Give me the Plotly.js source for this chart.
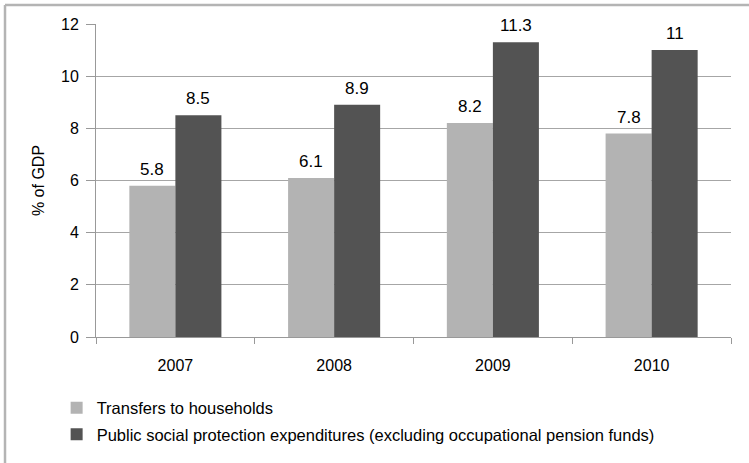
<!DOCTYPE html>
<html>
<head>
<meta charset="utf-8">
<script src="https://cdn.plot.ly/plotly-3.0.1.min.js"></script>
<style>
  html, body { margin: 0; padding: 0; background: #fff; }
  #chart { width: 749px; height: 463px; }
</style>
</head>
<body>
<div id="chart"></div>
<script>
// Gögn lesin af myndinni
let years = ['2007', '2008', '2009', '2010'];
let transfers = [5.8, 6.1, 8.2, 7.8];
let publicSocial = [8.5, 8.9, 11.3, 11];
let seriesNames = ['Transfers to households',
  'Public social protection expenditures (excluding occupational pension funds)'];
let yTicks = [0, 2, 4, 6, 8, 10, 12];

function drawChart() {
  let fam = 'Liberation Sans, Arial, sans-serif';
  let font = { family: fam, size: 16, color: '#000' };
  let labelFont = { family: fam, size: 17, color: '#000' };

  let plotW = 749 - 96 - 18;
  let bargap = 0.42;
  // hálf súlubreidd í pixlum, reiknuð úr flokkabreidd
  let halfBar = plotW / years.length * (1 - bargap) / 4;

  let traces = [
    {
      type: 'bar',
      name: seriesNames[0],
      legendgroup: 'a',
      x: years,
      y: transfers,
      marker: { color: '#b3b3b3' },
      hoverinfo: 'none',
    },
    {
      type: 'bar',
      name: seriesNames[1],
      legendgroup: 'b',
      x: years,
      y: publicSocial,
      marker: { color: '#535353' },
      hoverinfo: 'none',
    },
  ];

  // gildismerki ofan á súlunum (x sem flokksnúmer)
  let annotations = [];
  years.forEach(function (yr, i) {
    [[transfers, -halfBar], [publicSocial, halfBar]].forEach(function (s) {
      annotations.push({
        x: i, y: s[0][i], xref: 'x', yref: 'y',
        text: String(s[0][i]),
        showarrow: false,
        xshift: s[1],
        yanchor: 'bottom',
        yshift: 5,
        font: labelFont,
      });
    });
  });

  // ramminn vinstra megin og að ofan
  let border = '#b4b4b4';
  let layout = {
    width: 749,
    height: 463,
    margin: { l: 96, r: 18, t: 24, b: 126, autoexpand: false },
    paper_bgcolor: '#fff',
    plot_bgcolor: '#fff',
    font: font,
    barmode: 'group',
    bargap: bargap,
    bargroupgap: 0,
    showlegend: true,
    legend: {
      x: -0.062,
      y: -0.171,
      xanchor: 'left',
      yanchor: 'top',
      orientation: 'v',
      traceorder: 'grouped',
      tracegroupgap: 2,
      font: { family: fam, size: 16.5, color: '#000' },
      bgcolor: 'rgba(0,0,0,0)',
    },
    xaxis: {
      type: 'category',
      range: [-0.5, years.length - 0.5],
      showline: true,
      linecolor: '#999',
      linewidth: 1,
      ticks: 'outside',
      tickson: 'boundaries',
      ticklen: 6,
      tickcolor: '#999',
      showgrid: false,
      tickfont: font,
      ticklabelstandoff: 14,
    },
    yaxis: {
      range: [0, 12],
      tickvals: yTicks,
      showline: true,
      linecolor: '#999',
      linewidth: 1,
      ticks: 'outside',
      ticklen: 9,
      tickcolor: '#999',
      showgrid: true,
      gridcolor: '#a6a6a6',
      gridwidth: 1,
      zeroline: false,
      tickfont: font,
      ticklabelstandoff: 4,
      title: { text: '% of GDP', font: font, standoff: 12 },
    },
    annotations: annotations,
    shapes: [
      { type: 'line', xref: 'paper', yref: 'paper', x0: -0.1433, x1: -0.1433, y0: 1.0607, y1: -0.41,
        line: { color: border, width: 2.5 } },
      { type: 'line', xref: 'paper', yref: 'paper', x0: -0.1433, x1: 1.03, y0: 1.0607, y1: 1.0607,
        line: { color: border, width: 2.5 } },
    ],
  };

  let config = { displayModeBar: false, staticPlot: true };

  Plotly.newPlot(document.getElementById('chart'), traces, layout, config);
}
drawChart();
</script>
</body>
</html>
